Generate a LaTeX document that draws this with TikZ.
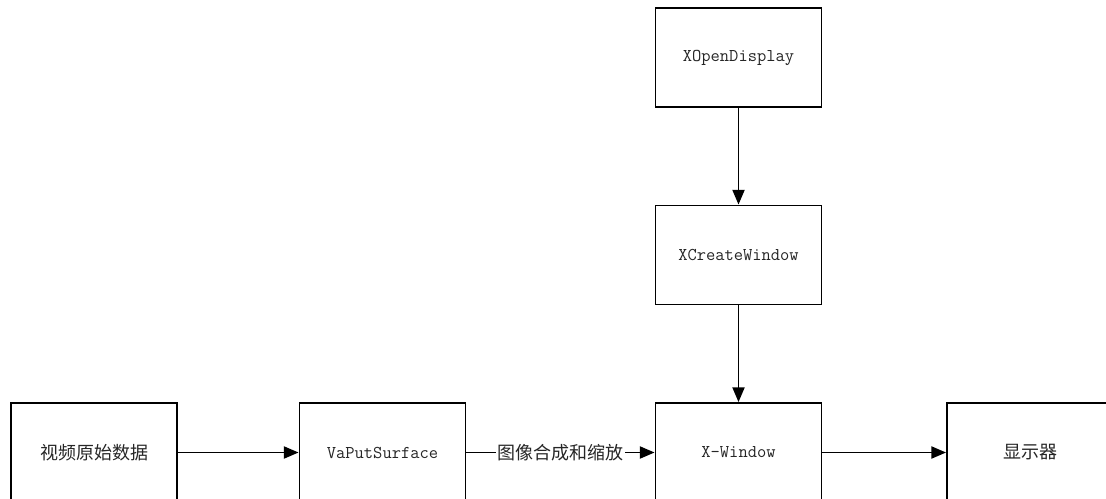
\documentclass[tikz,border=0pt]{standalone}
\usepackage{fontspec}
\newfontfamily\cjk{Noto Sans CJK SC}
\usetikzlibrary{arrows.meta}
\tikzset{
  box/.style={draw=black, line width=1.4pt, minimum width=124.5pt, minimum height=74.25pt, inner sep=0pt, font=\fontsize{13.5pt}{16pt}\selectfont, text=black!85},
  flow/.style={line width=1.4pt, -{Triangle[length=11pt,width=9pt]}},
  lbl/.style={fill=white, inner sep=1pt, font=\cjk\fontsize{13.5pt}{16pt}\selectfont, text=black!85}
}
\begin{document}
\begin{tikzpicture}[x=0.75pt,y=-0.75pt]
\clip (0,0) rectangle (1106,499);
\fill[white] (0,0) rectangle (1106,499);
\node[box] (open) at (738.5,57.5) {\ttfamily XOpenDisplay};
\node[box] (create) at (738.5,255) {\ttfamily XCreateWindow};
\node[box] (raw) at (94,452.5) {\cjk 视频原始数据};
\node[box] (va) at (382.5,452.5) {\ttfamily VaPutSurface};
\node[box] (xw) at (738.5,452.5) {\ttfamily X-Window};
\node[box] (disp) at (1030,452.5) {\cjk 显示器};
\draw[flow] (open) -- (create);
\draw[flow] (create) -- (xw);
\draw[flow] (raw) -- (va);
\draw[flow] (va) -- node[lbl] (lab) {图像合成和缩放} (xw);
\draw[flow] (xw) -- (disp);
\end{tikzpicture}
\end{document}
